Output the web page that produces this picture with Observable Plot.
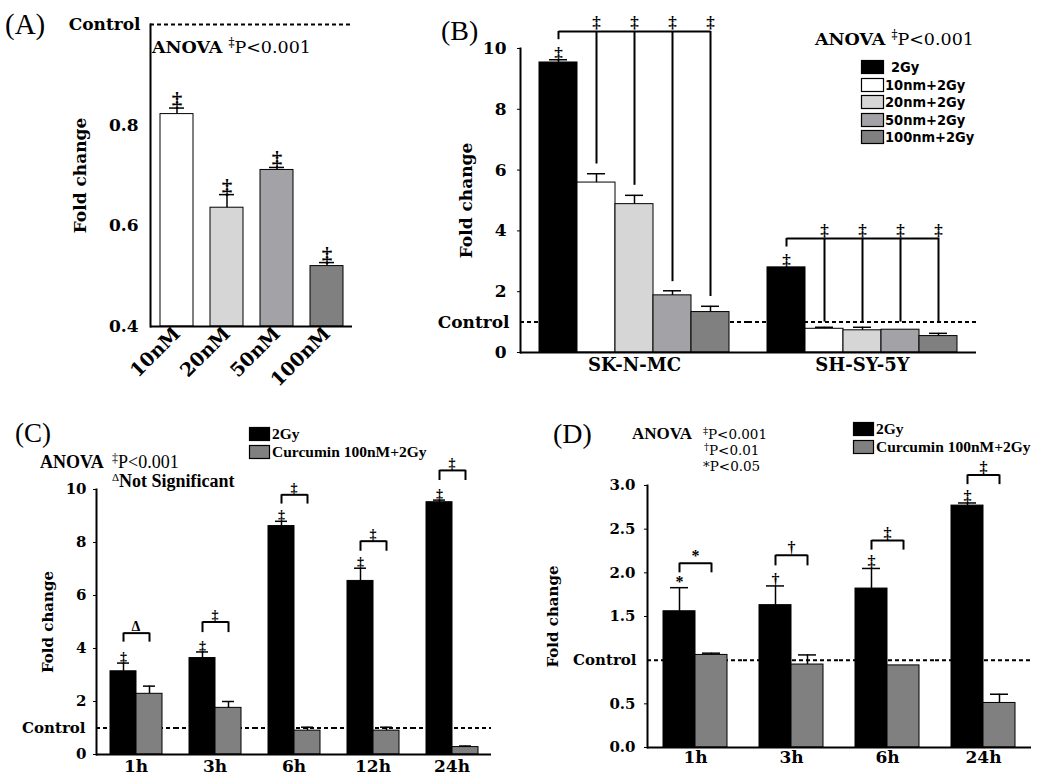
<!DOCTYPE html>
<html><head><meta charset="utf-8">
<script src="https://cdn.jsdelivr.net/npm/d3@7"></script>
<script src="https://cdn.jsdelivr.net/npm/@observablehq/plot@0.6"></script>
<style>
body{margin:0;background:#fff;}
#wrap{position:relative;width:1050px;height:783px;overflow:hidden;background:#fff;}
.pane{position:absolute;}
</style></head>
<body><div id="wrap"></div>
<script>
// ---------- Panel A ----------
const aDoses = ["10nM", "20nM", "50nM", "100nM"];
const aMeans = [0.822, 0.636, 0.711, 0.520];
const aSE = [0.012, 0.026, 0.005, 0.007];
const aYDomain = [0.4, 1.0];
const aYTicks = [0.4, 0.6, 0.8];
const aControl = 1.0;
const aColors = ["#ffffff", "#d6d6d6", "#a3a3a7", "#808080"];

// ---------- Panel B ----------
const bLines = ["SK-N-MC", "SH-SY-5Y"];
const bTreatments = ["2Gy", "10nm+2Gy", "20nm+2Gy", "50nm+2Gy", "100nm+2Gy"];
const bSKMeans = [9.54, 5.59, 4.88, 1.88, 1.33];
const bSKSE = [0.09, 0.29, 0.29, 0.15, 0.19];
const bSHMeans = [2.80, 0.78, 0.73, 0.75, 0.54];
const bSHSE = [0, 0.05, 0.10, 0, 0.09];
const bBracketTop = [10.56, 3.75];
const bSKDrop = [10.29, 6.2, 5.5, 2.33, 1.84];
const bSHDrop = [3.47, 1.0, 1.0, 1.0, 1.0];
const bYDomain = [0, 10];
const bYTicks = [0, 2, 4, 6, 8, 10];
const bColors = ["#000000", "#ffffff", "#d6d6d6", "#a3a3a7", "#808080"];

// ---------- Panel C ----------
const cTimes = ["1h", "3h", "6h", "12h", "24h"];
const cSeries = ["2Gy", "Curcumin 100nM+2Gy"];
const c2GyMeans = [3.14, 3.64, 8.62, 6.55, 9.52];
const c2GySE = [0.31, 0.23, 0.18, 0.48, 0.08];
const cCurMeans = [2.29, 1.76, 0.90, 0.90, 0.28];
const cCurSE = [0.29, 0.24, 0.13, 0.13, 0.04];
const cBracketTop = [4.58, 5.0, 9.8, 8.05, 10.72];
const cBracketDrop = [4.24, 4.6, 9.45, 7.67, 10.34];
const cBracketSymbol = ["\u0394", "\u2021", "\u2021", "\u2021", "\u2021"];
const cBarSymbol = ["\u2021", "\u2021", "\u2021", "\u2021", "\u2021"];
const cYDomain = [0, 10];
const cYTicks = [0, 2, 4, 6, 8, 10];

// ---------- Panel D ----------
const dTimes = ["1h", "3h", "6h", "24h"];
const d2GyMeans = [1.56, 1.63, 1.82, 2.77];
const d2GySE = [0.27, 0.22, 0.23, 0.03];
const dCurMeans = [1.06, 0.95, 0.94, 0.51];
const dCurSE = [0.02, 0.11, 0, 0.10];
const dBracketTop = [2.11, 2.2, 2.37, 3.12];
const dBracketDrop = [2.0, 2.08, 2.26, 3.01];
const dBracketSymbol = ["*", "\u2020", "\u2021", "\u2021"];
const dBarSymbol = ["*", "\u2020", "\u2021", "\u2021"];
const dYDomain = [0, 3];
const dYTicks = [0, 0.5, 1.5, 2.0, 2.5, 3.0];
const cdColors = ["#000000", "#808080"];

const CONTROL = 1.0;
const wrap = document.getElementById("wrap");
function place(el, left, top) {
  const div = document.createElement("div");
  div.className = "pane";
  div.style.left = left + "px";
  div.style.top = top + "px";
  div.appendChild(el);
  wrap.appendChild(div);
}
const dash = "4,3";

// ================= A =================
const aRows = aDoses.map((dose, i) => ({dose, mean: aMeans[i], se: aSE[i]}));
const plotA = Plot.plot({
  width: 370, height: 390,
  marginLeft: 150, marginRight: 18, marginTop: 24, marginBottom: 64,
  style: {fontFamily: "DejaVu Serif", fontWeight: "bold", fontSize: "17px", background: "transparent", overflow: "visible"},
  x: {domain: aDoses, paddingInner: 0.34, paddingOuter: 0.17},
  y: {domain: aYDomain},
  color: {domain: aDoses, range: aColors},
  marks: [
    Plot.ruleY([aControl], {strokeWidth: 2, strokeDasharray: dash}),
    Plot.barY(aRows, {x: "dose", y1: aYDomain[0], y2: "mean", fill: "dose", stroke: "black", strokeWidth: 1}),
    Plot.ruleX(aRows, {x: "dose", y1: "mean", y2: d => d.mean + d.se, strokeWidth: 1.5}),
    Plot.tickY(aRows, {x: "dose", y: d => d.mean + d.se, insetLeft: 9, insetRight: 9, strokeWidth: 1.5}),
    Plot.text(aRows, {x: "dose", y: d => d.mean + d.se, text: () => "\u2021", lineAnchor: "bottom", dy: -1, fontSize: 21, fontWeight: "bold", fontFamily: "Liberation Serif"}),
    Plot.axisY(aYTicks, {tickSize: 0, tickPadding: 12, tickFormat: ".1f", label: "Fold change", labelAnchor: "center", labelOffset: 77, labelArrow: false}),
    Plot.axisX({tickRotate: -45, tickSize: 0, tickPadding: 4, fontSize: 19, label: null}),
    Plot.text([aControl], {y: d => d, text: () => "Control", frameAnchor: "left", textAnchor: "end", dx: -10}),
    Plot.ruleY([aYDomain[0]], {strokeWidth: 2}),
    Plot.frame({anchor: "left", strokeWidth: 2})
  ]
});
place(plotA, 0, 0);

// ================= B =================
const bMeans = [bSKMeans, bSHMeans];
const bSE = [bSKSE, bSHSE];
const bDropEnd = [bSKDrop, bSHDrop];
const bRows = bLines.flatMap((line, i) => bTreatments.map((treatment, j) => ({line, treatment, mean: bMeans[i][j], se: bSE[i][j], first: j === 0})));
const bBrackets = bLines.map((line, i) => ({line, top: bBracketTop[i]}));
const bDrops = bLines.flatMap((line, i) => bTreatments.map((treatment, j) => ({line, treatment, top: bBracketTop[i], end: bDropEnd[i][j], first: j === 0})));
const plotB = Plot.plot({
  width: 650, height: 390,
  marginLeft: 119, marginRight: 74, marginTop: 48, marginBottom: 38,
  style: {fontFamily: "DejaVu Serif", fontWeight: "bold", fontSize: "17px", background: "transparent", overflow: "visible"},
  fx: {domain: bLines, padding: 0},
  x: {domain: bTreatments, paddingInner: 0, paddingOuter: 0.49, axis: null},
  y: {domain: bYDomain},
  color: {domain: bTreatments, range: bColors},
  marks: [
    Plot.ruleY([CONTROL], {strokeWidth: 2, strokeDasharray: dash}),
    Plot.barY(bRows, {fx: "line", x: "treatment", y: "mean", fill: "treatment", stroke: "black", strokeWidth: 1}),
    Plot.ruleX(bRows.filter(d => d.se > 0), {fx: "line", x: "treatment", y1: "mean", y2: d => d.mean + d.se, strokeWidth: 1.5}),
    Plot.tickY(bRows.filter(d => d.se > 0), {fx: "line", x: "treatment", y: d => d.mean + d.se, insetLeft: 10, insetRight: 10, strokeWidth: 1.5}),
    Plot.link(bBrackets, {fx: "line", x1: () => bTreatments[0], x2: () => bTreatments[bTreatments.length - 1], y1: "top", y2: "top", strokeWidth: 2}),
    Plot.ruleX(bDrops, {fx: "line", x: "treatment", y1: "top", y2: "end", strokeWidth: 2}),
    Plot.text(bDrops.filter(d => !d.first), {fx: "line", x: "treatment", y: "top", text: () => "\u2021", lineAnchor: "bottom", dy: -3, fontSize: 17, fontWeight: "bold", fontFamily: "Liberation Serif"}),
    Plot.text(bRows.filter(d => d.first), {fx: "line", x: "treatment", y: d => d.mean + d.se, text: () => "\u2021", lineAnchor: "bottom", dy: -1, fontSize: 17, fontWeight: "bold", fontFamily: "Liberation Serif"}),
    Plot.axisY(bYTicks, {tickSize: 3, tickPadding: 11, label: "Fold change", labelAnchor: "center", labelOffset: 61, labelArrow: false}),
    Plot.axisFx({anchor: "bottom", tickSize: 0, tickPadding: 6, label: null, fontSize: 18}),
    Plot.text([CONTROL], {y: d => d, text: () => "Control", frameAnchor: "left", textAnchor: "end", dx: -11, facetAnchor: "left"}),
    Plot.ruleY([bYDomain[0]], {strokeWidth: 2}),
    Plot.frame({anchor: "left", strokeWidth: 2, facetAnchor: "left"})
  ]
});
place(plotB, 400, 0);

// ================= C / D helper data =================
function groupedRows(times, meansBySeries, seBySeries) {
  return times.flatMap((time, i) => cSeries.map((series, j) => ({time, series, mean: meansBySeries[j][i], se: seBySeries[j][i]})));
}
function bracketRows(times, tops, drops, syms) {
  return times.map((time, i) => ({time, top: tops[i], drop: drops[i], sym: syms[i]}));
}

function groupedPlot(opts) {
  const {times, rows, brackets, barSyms, yDomain, yTicks, tickFormat, width, height, margins, labelOffset, tickPadding, fxPad, symSize, paddingOuter} = opts;
  const drops = brackets.flatMap(b => cSeries.map(series => ({...b, series})));
  const firstRows = rows.filter(d => d.series === cSeries[0]).map((d, i) => ({...d, sym: barSyms[i]}));
  return Plot.plot({
    width, height, ...margins,
    style: {fontFamily: "DejaVu Serif", fontWeight: "bold", fontSize: "16px", background: "transparent", overflow: "visible"},
    fx: {domain: times, padding: 0},
    x: {domain: cSeries, paddingInner: 0, paddingOuter, axis: null},
    y: {domain: yDomain},
    color: {domain: cSeries, range: cdColors},
    marks: [
      Plot.ruleY([CONTROL], {strokeWidth: 2, strokeDasharray: dash}),
      Plot.barY(rows, {fx: "time", x: "series", y: "mean", fill: "series", stroke: "black", strokeWidth: 1}),
      Plot.ruleX(rows.filter(d => d.se > 0), {fx: "time", x: "series", y1: "mean", y2: d => d.mean + d.se, strokeWidth: 1.5}),
      Plot.tickY(rows.filter(d => d.se > 0), {fx: "time", x: "series", y: d => d.mean + d.se, insetLeft: 7, insetRight: 7, strokeWidth: 1.5}),
      Plot.link(brackets, {fx: "time", x1: () => cSeries[0], x2: () => cSeries[1], y1: "top", y2: "top", strokeWidth: 2}),
      Plot.ruleX(drops, {fx: "time", x: "series", y1: "top", y2: "drop", strokeWidth: 2}),
      Plot.text(brackets, {fx: "time", y: "top", text: "sym", lineAnchor: "bottom", dy: -2, fontSize: symSize, fontWeight: "bold", fontFamily: "Liberation Serif"}),
      Plot.text(firstRows, {fx: "time", x: "series", y: d => d.mean + d.se, text: "sym", lineAnchor: "bottom", dy: -1, fontSize: symSize, fontWeight: "bold", fontFamily: "Liberation Serif"}),
      Plot.axisY(yTicks, {tickSize: 3, tickPadding, tickFormat, label: "Fold change", labelAnchor: "center", labelOffset, labelArrow: false, fontSize: 15}),
      Plot.axisFx({anchor: "bottom", tickSize: 0, tickPadding: fxPad, label: null, fontSize: 17}),
      Plot.text([CONTROL], {y: d => d, text: () => "Control", frameAnchor: "left", textAnchor: "end", dx: -11, facetAnchor: "left", fontSize: 15}),
      Plot.ruleY([yDomain[0]], {strokeWidth: 2}),
      Plot.frame({anchor: "left", strokeWidth: 2, facetAnchor: "left"})
    ]
  });
}

// ================= C =================
const plotC = groupedPlot({
  times: cTimes,
  rows: groupedRows(cTimes, [c2GyMeans, cCurMeans], [c2GySE, cCurSE]),
  brackets: bracketRows(cTimes, cBracketTop, cBracketDrop, cBracketSymbol),
  barSyms: cBarSymbol,
  yDomain: cYDomain, yTicks: cYTicks, tickFormat: "d",
  width: 520, height: 383,
  margins: {marginLeft: 94, marginRight: 28, marginTop: 89, marginBottom: 29},
  labelOffset: 54, tickPadding: 7, fxPad: 5, symSize: 14, paddingOuter: 0.5
});
place(plotC, 0, 400);

// ================= D =================
const plotD = groupedPlot({
  times: dTimes,
  rows: groupedRows(dTimes, [d2GyMeans, dCurMeans], [d2GySE, dCurSE]),
  brackets: bracketRows(dTimes, dBracketTop, dBracketDrop, dBracketSymbol),
  barSyms: dBarSymbol,
  yDomain: dYDomain, yTicks: dYTicks, tickFormat: ".1f",
  width: 530, height: 383,
  margins: {marginLeft: 126, marginRight: 18, marginTop: 85, marginBottom: 36},
  labelOffset: 100, tickPadding: 9, fxPad: 3, symSize: 16, paddingOuter: 0.48
});
place(plotD, 520, 400);

// ================= annotations & legends =================
const overlay = d3.select("#wrap").append("svg")
  .attr("width", 1050).attr("height", 783)
  .style("position", "absolute").style("left", "0px").style("top", "0px")
  .style("pointer-events", "none").style("overflow", "visible");

function label(x, y, spans, family, size, weight) {
  const t = overlay.append("text").attr("x", x).attr("y", y)
    .style("font-family", family).style("font-size", size + "px").style("font-weight", weight || "normal");
  for (const s of spans) {
    const ts = t.append("tspan").text(s.text);
    if (s.x != null) ts.attr("x", s.x);
    if (s.dy) ts.attr("dy", s.dy);
    if (s.size) ts.style("font-size", s.size + "px");
    if (s.weight) ts.style("font-weight", s.weight);
  }
}
const DAG2 = "\u2021", DAG = "\u2020";

// A
label(5, 34, [{text: "(A)"}], "Liberation Serif", 29);
label(152, 53, [{text: "ANOVA ", weight: "bold"}, {text: DAG2, size: 12, dy: -6}, {text: "P<0.001", dy: 6}], "DejaVu Serif", 17.5);
// B
label(441, 40, [{text: "(B)"}], "Liberation Serif", 28);
label(815, 45, [{text: "ANOVA ", weight: "bold"}, {text: DAG2, size: 12, dy: -6}, {text: "P<0.001", dy: 6}], "DejaVu Serif", 17.5);
const bLegendTops = [60, 78, 95, 113, 130];
bTreatments.forEach((t, i) => {
  overlay.append("rect").attr("x", 861.5).attr("y", bLegendTops[i] + 0.5).attr("width", 22).attr("height", 13)
    .attr("fill", bColors[i]).attr("stroke", "black").attr("stroke-width", 1.2);
  label(i === 0 ? 891 : 885, bLegendTops[i] + 12, [{text: t}], "DejaVu Sans Condensed, DejaVu Sans", 14.5, "bold");
});
// C
label(15, 442, [{text: "(C)"}], "Liberation Serif", 27);
label(40, 468, [{text: "ANOVA", weight: "bold"}, {text: DAG2, x: 112, size: 12, dy: -6}, {text: "P<0.001", dy: 6}], "Liberation Serif", 18);
label(112, 487, [{text: "\u0394", size: 11, dy: -6}, {text: "Not Significant", dy: 6, weight: "bold"}], "Liberation Serif", 18);
const cLegendTops = [427, 445];
cSeries.forEach((s, i) => {
  overlay.append("rect").attr("x", 249.5).attr("y", cLegendTops[i] + 0.5).attr("width", 20).attr("height", 13)
    .attr("fill", cdColors[i]).attr("stroke", "black").attr("stroke-width", 1.2);
  label(272, cLegendTops[i] + 12, [{text: s}], "Liberation Serif", 15.5, "bold");
});
// D
label(553, 443, [{text: "(D)"}], "Liberation Serif", 28);
label(632, 439, [{text: "ANOVA", weight: "bold"}], "Liberation Serif", 17);
label(703, 439, [{text: DAG2, size: 10, dy: -5}, {text: "P<0.001", dy: 5}], "DejaVu Serif", 13.5);
label(704, 455, [{text: DAG, size: 10, dy: -5}, {text: "P<0.01", dy: 5}], "DejaVu Serif", 13.5);
label(703, 471, [{text: "*P<0.05"}], "DejaVu Serif", 13.5);
const dLegendTops = [422, 440];
cSeries.forEach((s, i) => {
  overlay.append("rect").attr("x", 853.5).attr("y", dLegendTops[i] + 0.5).attr("width", 20).attr("height", 13)
    .attr("fill", cdColors[i]).attr("stroke", "black").attr("stroke-width", 1.2);
  label(876, dLegendTops[i] + 12, [{text: s}], "Liberation Serif", 15.5, "bold");
});
</script>
</body></html>
